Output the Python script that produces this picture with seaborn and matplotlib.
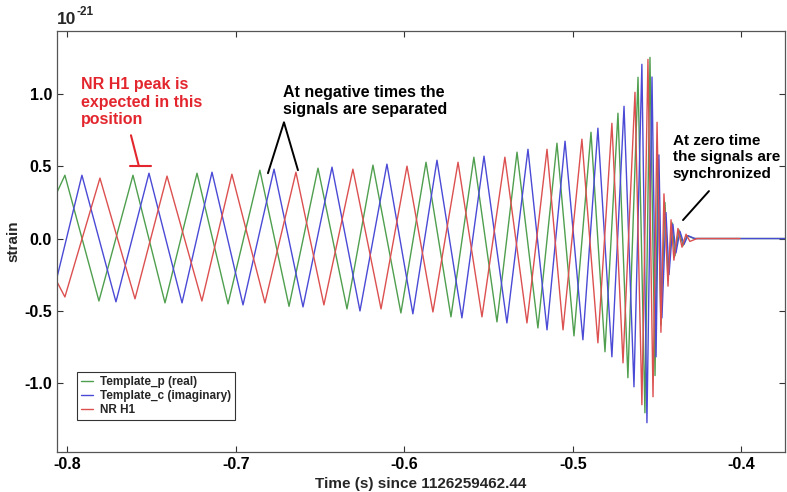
import matplotlib
matplotlib.use("Agg")
import matplotlib.pyplot as plt
import numpy as np
import pandas as pd
import seaborn as sns

# ---- data (strain in units of 1e-21), extrema ----
green_t = [-0.8062, -0.8015, -0.7813, -0.7611, -0.7421, -0.7231, -0.7047, -0.6858, -0.6685,
           -0.6513, -0.6341, -0.6187, -0.6021, -0.5872, -0.5724, -0.5588, -0.5451, -0.5332,
           -0.5208, -0.5095, -0.4994, -0.4893, -0.4810, -0.4733, -0.4674, -0.4614, -0.4573,
           -0.4543, -0.4513, -0.4496, -0.4478, -0.4454, -0.4436, -0.4412, -0.4395, -0.4371,
           -0.4347, -0.4323, -0.4282, -0.3742]
green_y = [0.32, 0.439, -0.433, 0.439, -0.446, 0.453, -0.453, 0.474, -0.47,
           0.488, -0.488, 0.509, -0.516, 0.529, -0.543, 0.564, -0.578, 0.599,
           -0.62, 0.661, -0.675, 0.737, -0.785, 0.869, -0.965, 1.118, -1.208,
           1.256, -0.95, 0.55, -0.60, 0.25, -0.28, 0.11, -0.12, 0.06,
           -0.05, 0.02, 0.0, 0.0]

blue_t = [-0.8062, -0.7914, -0.7712, -0.7516, -0.7320, -0.7142, -0.6958, -0.6774, -0.6602,
          -0.6430, -0.6264, -0.6104, -0.5950, -0.5807, -0.5659, -0.5528, -0.5392, -0.5267,
          -0.5154, -0.5047, -0.4941, -0.4852, -0.4769, -0.4697, -0.4638, -0.4591, -0.4561,
          -0.4531, -0.4507, -0.4490, -0.4472, -0.4448, -0.4430, -0.4407, -0.4389, -0.4365,
          -0.4341, -0.4318, -0.4276, -0.3742]
blue_y = [-0.27, 0.439, -0.439, 0.453, -0.446, 0.460, -0.460, 0.481, -0.474,
          0.495, -0.502, 0.516, -0.522, 0.543, -0.550, 0.571, -0.585, 0.619,
          -0.633, 0.675, -0.702, 0.765, -0.820, 0.917, -1.028, 1.208, -1.277,
          1.12, -0.82, 0.58, -0.55, 0.18, -0.25, 0.10, -0.10, 0.05,
          -0.04, 0.02, 0.0, 0.0]

red_t = [-0.8062, -0.8015, -0.7807, -0.7599, -0.7409, -0.7202, -0.7024, -0.6828, -0.6644,
         -0.6478, -0.6306, -0.6139, -0.5985, -0.5831, -0.5682, -0.5540, -0.5404, -0.5273,
         -0.5154, -0.5059, -0.4947, -0.4852, -0.4769, -0.4703, -0.4632, -0.4591, -0.4555,
         -0.4525, -0.4501, -0.4478, -0.4460, -0.4436, -0.4418, -0.4401, -0.4377, -0.4353,
         -0.4329, -0.4306, -0.4264, -0.4009]
red_y = [-0.30, -0.405, 0.419, -0.418, 0.433, -0.433, 0.446, -0.446, 0.460,
         -0.460, 0.481, -0.488, 0.502, -0.509, 0.529, -0.543, 0.564, -0.585,
         0.619, -0.633, 0.689, -0.723, 0.799, -0.862, 1.014, -1.152, 1.242,
         -1.097, 0.806, -0.65, 0.31, -0.33, 0.13, -0.15, 0.07, -0.06,
         0.03, -0.02, 0.0, 0.0]

series_names = ["Template_p (real)", "Template_c (imaginary)", "NR H1"]
x_ticks = [-0.8, -0.7, -0.6, -0.5, -0.4]
y_ticks = [-1.0, -0.5, 0.0, 0.5, 1.0]

df = pd.concat([
    pd.DataFrame({"t": green_t, "strain": green_y, "series": series_names[0]}),
    pd.DataFrame({"t": blue_t, "strain": blue_y, "series": series_names[1]}),
    pd.DataFrame({"t": red_t, "strain": red_y, "series": series_names[2]}),
], ignore_index=True)

# ---- style ----
sns.set_style("ticks")
plt.rcParams["font.family"] = ["Liberation Sans", "DejaVu Sans"]
plt.rcParams["font.weight"] = "bold"
plt.rcParams["axes.unicode_minus"] = False

fig = plt.figure(figsize=(7.87, 4.92), dpi=100)
ax = fig.add_axes([0.0724, 0.0813, 0.925, 0.856])

palette = ["#4f9f4f", "#4a4ad6", "#dc5050"]
sns.lineplot(data=df, x="t", y="strain", hue="series", hue_order=series_names,
             palette=palette, sort=False, estimator=None, lw=1.0, ax=ax)

ax.set_xlim(-0.8062, -0.3742)
ax.set_ylim(-1.48, 1.44)
ax.set_xticks(x_ticks)
ax.set_xticklabels([f"{v:.1f}" for v in x_ticks])
ax.set_yticks(y_ticks)
ax.set_yticklabels([f"{v:.1f}" for v in y_ticks])
ax.tick_params(direction="in", top=True, right=True, length=4, width=0.8,
               labelsize=11.5, colors="#333333", labelcolor="black")
for s in ax.spines.values():
    s.set_color("#555555")
    s.set_linewidth(0.9)

ax.set_xlabel("Time (s) since 1126259462.44", fontsize=11, fontweight="bold", labelpad=4)
ax.set_ylabel("strain", fontsize=11, fontweight="bold", labelpad=3)

# offset "10^-21" written with a plain hyphen
ax.text(0.0, 1.008, "10", transform=ax.transAxes, fontsize=12.5,
        fontweight="bold", ha="left", va="bottom")
ax.text(0.027, 1.030, "-21", transform=ax.transAxes, fontsize=8.5,
        fontweight="bold", ha="left", va="bottom")

leg = ax.legend(loc="lower left", bbox_to_anchor=(0.020, 0.062), frameon=True,
                fancybox=False, shadow=False, handlelength=1.0, handletextpad=0.6,
                borderpad=0.3, labelspacing=0.2, fontsize=8.5)
leg.get_frame().set_edgecolor("black")
leg.get_frame().set_linewidth(0.8)
for txt in leg.get_texts():
    txt.set_fontweight("bold")

# ---- annotations ----
ax.text(-0.7920, 0.77, "NR H1 peak is\nexpected in this\nposition", color="#e3262e",
        fontsize=11.5, fontweight="bold", ha="left", va="bottom", linespacing=1.22)
ax.plot([-0.7623, -0.7576], [0.716, 0.502], color="#e3262e", lw=1.5)
ax.plot([-0.7629, -0.7505], [0.502, 0.502], color="#e3262e", lw=1.5)

ax.text(-0.6720, 0.84, "At negative times the\nsignals are separated", color="black",
        fontsize=11.5, fontweight="bold", ha="left", va="bottom", linespacing=1.22)
ax.plot([-0.6810, -0.6715, -0.6632], [0.453, 0.806, 0.474], color="black", lw=1.4)

ax.text(-0.4407, 0.40, "At zero time\nthe signals are\nsynchronized", color="black",
        fontsize=11, fontweight="bold", ha="left", va="bottom", linespacing=1.22)
ax.plot([-0.4193, -0.4347], [0.329, 0.128], color="black", lw=1.4)

fig.savefig("out.png", dpi=100)
